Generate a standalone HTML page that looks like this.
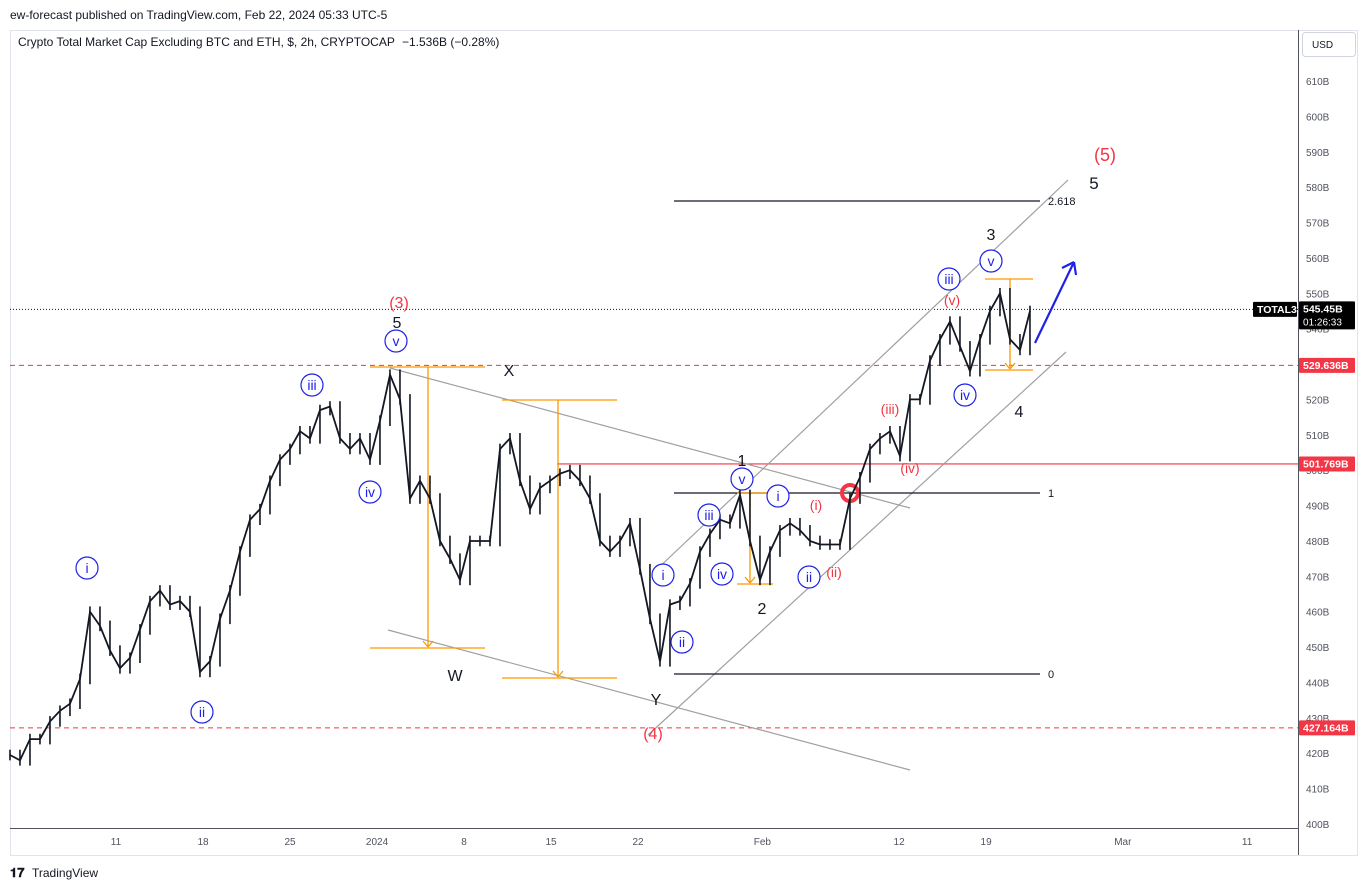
<!DOCTYPE html>
<html><head><meta charset="utf-8"><style>
html,body{margin:0;padding:0;background:#fff;width:1370px;height:890px;overflow:hidden;font-family:"Liberation Sans",sans-serif}
svg{position:absolute;left:0;top:0}
</style></head><body>
<svg id="chart" width="1370" height="890" viewBox="0 0 1370 890">
<text x="10" y="19" font-size="12" fill="#131722">ew-forecast published on TradingView.com, Feb 22, 2024 05:33 UTC-5</text>
<rect x="10.5" y="30.5" width="1347" height="825" fill="#fff" stroke="#e0e3eb"/>
<line x1="10" y1="828.5" x2="1298" y2="828.5" stroke="#50535e"/>
<line x1="1298.5" y1="30" x2="1298.5" y2="855" stroke="#50535e"/>
<text x="18" y="46" font-size="12" fill="#131722">Crypto Total Market Cap Excluding BTC and ETH, $, 2h, CRYPTOCAP <tspan dx="4">−1.536B (−0.28%)</tspan></text>
<rect x="1302.5" y="32.5" width="53" height="24" rx="3" fill="#fff" stroke="#d1d4dc"/>
<text x="1312" y="48" font-size="10" fill="#131722">USD</text>
<g id="yticks"></g><g id="xticks"></g>
<g id="levels"></g>
<g id="drawings" fill="none"></g>
<g id="bars"></g>
<g id="labels"></g>
<g id="tags"></g>
<text x="10" y="877" font-size="13" font-weight="bold" fill="#131722">𝟏𝟕</text>
<text x="32" y="877" font-size="12" fill="#131722">TradingView</text>
</svg>
<script>
const yTicks=[400,410,420,430,440,450,460,470,480,490,500,510,520,530,540,550,560,570,580,590,600,610];
const xTickLabels=["11","18","25","2024","8","15","22","Feb","12","19","Mar","11"];
const xTickDays=[0,7,14,21,28,35,42,52,63,70,81,91];
const startDay=-8.53, stepDay=0.8045;
const closes=[419.5,418,424,424,429,432,434,441,460,456,449,444,447,455,463,466,462,463,460,443,446,458,466,477,486,489,497,503,506,511,509,517,518,509,506,509,503,514,527,520,492,497,492,480,475,469,480,480,480,506,509,497,489,495,497,499,500,497,492,480,477,480,485,472,458,446,462,463,468,477,482,486,485,493,480,469,477,483,485,483,480,479,479,479,492,498,506,509,511,504,520,520,531,537,542,535,528,537,545,550,537,534,545];
const lastPrice=545.45, level1=529.636, level2=501.769, level3=427.164;
const NS="http://www.w3.org/2000/svg";
function y(p){return 824-(p-400)*3.538;}
function x(d){return 116+d*12.43;}
function el(tag,attrs,parent,txt){const e=document.createElementNS(NS,tag);for(const k in attrs)e.setAttribute(k,attrs[k]);if(txt!==undefined)e.textContent=txt;parent.appendChild(e);return e;}
const gy=document.getElementById('yticks'),gx=document.getElementById('xticks'),gl=document.getElementById('levels'),gd=document.getElementById('drawings'),gb=document.getElementById('bars'),glab=document.getElementById('labels'),gt=document.getElementById('tags');
yTicks.forEach(p=>{const t=el('text',{x:1306,y:y(p)+4,'font-size':10,fill:'#50535e'},gy,p+'B');

});
xTickLabels.forEach((l,i)=>{const t=el('text',{x:x(xTickDays[i]),y:845,'font-size':10,fill:'#50535e','text-anchor':'middle'},gx,l);

});
let e;
e=el('line',{x1:10,x2:1298,y1:y(lastPrice),y2:y(lastPrice),stroke:'#131722','stroke-dasharray':'1 2'},gl);


e=el('line',{x1:10,x2:1298,y1:y(level1),y2:y(level1),stroke:'#f23645','stroke-dasharray':'5 4'},gl);


e=el('line',{x1:10,x2:1298,y1:y(level3),y2:y(level3),stroke:'#f23645','stroke-dasharray':'5 4'},gl);


e=el('line',{x1:557,x2:1298,y1:y(level2),y2:y(level2),stroke:'#f23645','stroke-width':1.2},gl);


function ln(x1,y1,x2,y2,c,w,name){const l=el('line',{x1,y1,x2,y2,stroke:c,'stroke-width':w||1},gd);

}
ln(390,368,910,508,'#a0a0a0',1.2,'wxy-upper-trendline');
ln(388,630,910,770,'#a0a0a0',1.2,'wxy-lower-trendline');
ln(653,573,1068,180,'#a0a0a0',1.2,'rising-channel-upper');
ln(648,735,1066,352,'#a0a0a0',1.2,'rising-channel-lower');
[[201,'2.618'],[493,'1'],[674,'0']].forEach(f=>{ln(674,f[0],1040,f[0],'#131722',1.2,'fib-level-line');
const t=el('text',{x:1048,y:f[0]+4,'font-size':11,fill:'#131722'},gd,f[1]);

});
const OR='#ff9800';
[[370,485,428,367,648],[502,617,558,400,678],[737,773,750,493,584],[985,1033,1010,279,370]].forEach(o=>{
ln(o[0],o[3],o[1],o[3],OR,1.3,'projection-top');ln(o[0],o[4],o[1],o[4],OR,1.3,'projection-bottom');ln(o[2],o[3],o[2],o[4]-1,OR,1.3,'projection-arrow');
ln(o[2]-5,o[4]-7,o[2],o[4]-1,OR,1.3,'arrow-head');ln(o[2]+5,o[4]-7,o[2],o[4]-1,OR,1.3,'arrow-head');});
ln(1035,343,1074,262,'#1e22e8',2.2,'forecast-arrow');
ln(1074,262,1062,268,'#1e22e8',2.2,'forecast-arrow-head');ln(1074,262,1076,275,'#1e22e8',2.2,'forecast-arrow-head');
e=el('circle',{cx:850,cy:493,r:8,stroke:'#f23645','stroke-width':4,fill:'none'},gd);


let prev=closes[0];
closes.forEach((c,i)=>{const xx=x(startDay+i*stepDay);const hi=Math.max(prev,c)+1.5,lo=Math.min(prev,c)-1.5;
const b=el('line',{x1:xx,x2:xx,y1:y(hi),y2:y(lo),stroke:'#131722','stroke-width':1.6},gb);


prev=c;});
const pts=closes.map((c,i)=>x(startDay+i*stepDay).toFixed(1)+','+y(c).toFixed(1)).join(' ');
e=el('polyline',{points:pts,fill:'none',stroke:'#131722','stroke-width':1.8},gb);


const circ=[['i',87,568],['ii',202,712],['iii',312,385],['iv',370,492],['v',396,341],['i',663,575],['ii',682,642],['iii',709,515],['iv',722,574],['v',742,479],['i',778,496],['ii',809,577],['iii',949,279],['iv',965,395],['v',991,261]];
circ.forEach(c=>{const g=el('g',{},glab);


el('circle',{cx:c[1],cy:c[2],r:11,fill:'#fff',stroke:'#1e22e8','stroke-width':1.2},g);
el('text',{x:c[1],y:c[2]+5,'font-size':14,fill:'#1e22e8','text-anchor':'middle'},g,c[0]);});
const txt=[['5',397,328,'#131722',16],['(3)',399,308,'#f23645',16],['X',509,376,'#131722',16],['W',455,681,'#131722',16],['Y',656,705,'#131722',16],['(4)',653,739,'#f23645',16],['1',742,466,'#131722',16],['2',762,614,'#131722',16],['(i)',816,510,'#f23645',14],['(ii)',834,577,'#f23645',14],['(iii)',890,414,'#f23645',14],['(iv)',910,473,'#f23645',14],['(v)',952,305,'#f23645',14],['3',991,240,'#131722',16],['4',1019,417,'#131722',16],['5',1094,189,'#131722',17],['(5)',1105,161,'#f23645',18]];
txt.forEach(t=>{const n=el('text',{x:t[1],y:t[2],'font-size':t[4],fill:t[3],'text-anchor':'middle'},glab,t[0]);

});
function tag(x0,w,yc,h,bg,lines,name){const g=el('g',{},gt);


el('rect',{x:x0,y:yc-h/2,width:w,height:h,fill:bg,rx:1},g);
lines.forEach((l,i)=>el('text',{x:x0+4,y:yc-h/2+11+i*13,'font-size':(i?10:10.5),'font-weight':(i?'normal':'bold'),fill:'#fff'},g,l));}
tag(1253,44,y(lastPrice),15,'#000',['TOTAL3'],'symbol-tag');
tag(1299,56,y(lastPrice)+6,28,'#000',['545.45B','01:26:33'],'last-price-tag');
tag(1299,56,y(level1),15,'#f23645',['529.636B'],'level-tag-529');
tag(1299,56,y(level2),15,'#f23645',['501.769B'],'level-tag-501');
tag(1299,56,y(level3),15,'#f23645',['427.164B'],'level-tag-427');
</script>
</body></html>
